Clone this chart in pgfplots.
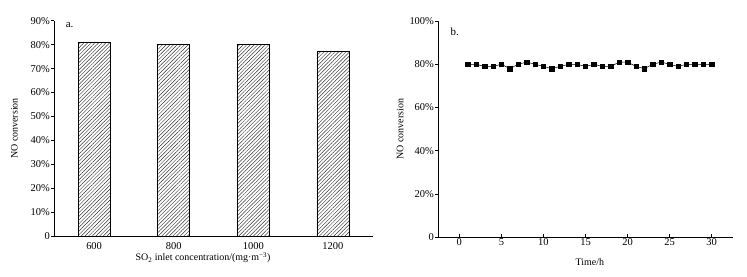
\documentclass[border=0pt]{standalone}
\usepackage{fontspec}
\setmainfont{Liberation Serif}
\usepackage{pgfplots}
\pgfplotsset{compat=1.18}
\usetikzlibrary{patterns.meta}
\begin{document}
\begin{tikzpicture}
\path[use as bounding box] (0bp,0bp) rectangle (747bp,277bp);
\pgfplotsset{
  every axis/.append style={
    scale only axis,
    axis lines=left,
    axis line style={-, line width=0.7pt},
    tick align=outside,
    major tick length=3bp,
    tick style={line width=0.7pt, black},
    /pgf/number format/assume math mode=true,
    ticklabel style={font=\fontsize{10.5}{12}\selectfont, inner sep=1.2pt},
    label style={font=\fontsize{11}{13}\selectfont},
  }
}
% Left chart
\begin{axis}[
  at={(54.3bp,40.7bp)}, anchor=south west,
  width=318.4bp, height=215.6bp,
  xmin=-0.5, xmax=3.5, ymin=0, ymax=90,
  xtick={0,1,2,3}, xticklabels={600,800,1000,1200},
  x tick style={draw=none},
  xticklabel style={yshift=-1.5bp},
  ytick={0,10,...,90},
  yticklabels={0,10\%,20\%,30\%,40\%,50\%,60\%,70\%,80\%,90\%},
  xlabel={SO\textsubscript{2} inlet concentration/(mg·m\textsuperscript{−3})},
  ylabel={NO conversion},
  every axis x label/.style={at={(axis description cs:0.467,-0.10)}, anchor=center},
  every axis y label/.style={at={(axis description cs:-0.125,0.5)}, anchor=center, rotate=90},
]
\addplot[ybar, bar width=32bp, draw=black, line width=0.8pt,
  pattern={Lines[angle=45,distance=2.6pt,line width=0.45pt]}, pattern color=black!80]
  coordinates {(0,81) (1,80) (2,80) (3,77)};
\node[anchor=north west, font=\fontsize{11}{13}\selectfont] at (axis description cs:0.025,1.01) {a.};
\end{axis}
% Right chart
\begin{axis}[
  at={(438.3bp,39.7bp)}, anchor=south west,
  width=294.4bp, height=216.3bp,
  xmin=-2.5, xmax=32.5, ymin=0, ymax=100,
  xtick align=inside, ytick align=outside,
  xtick={0,5,...,30},
  ytick={0,20,...,100},
  yticklabels={0,20\%,40\%,60\%,80\%,100\%},
  xlabel={Time/h},
  ylabel={NO conversion},
  every axis x label/.style={at={(axis description cs:0.515,-0.114)}, anchor=center},
  every axis y label/.style={at={(axis description cs:-0.130,0.5)}, anchor=center, rotate=90},
]
\addplot[black, line width=0.5pt, mark=square*, mark size=2.2pt, mark options={solid}]
  coordinates {
  (1,80) (2,80) (3,79) (4,79) (5,80) (6,78) (7,80) (8,81) (9,80) (10,79)
  (11,78) (12,79) (13,80) (14,80) (15,79) (16,80) (17,79) (18,79) (19,81) (20,81)
  (21,79) (22,78) (23,80) (24,81) (25,80) (26,79) (27,80) (28,80) (29,80) (30,80)
  };
\node[anchor=north west, font=\fontsize{11}{13}\selectfont] at (axis description cs:0.03,0.985) {b.};
\end{axis}
\end{tikzpicture}
\end{document}
